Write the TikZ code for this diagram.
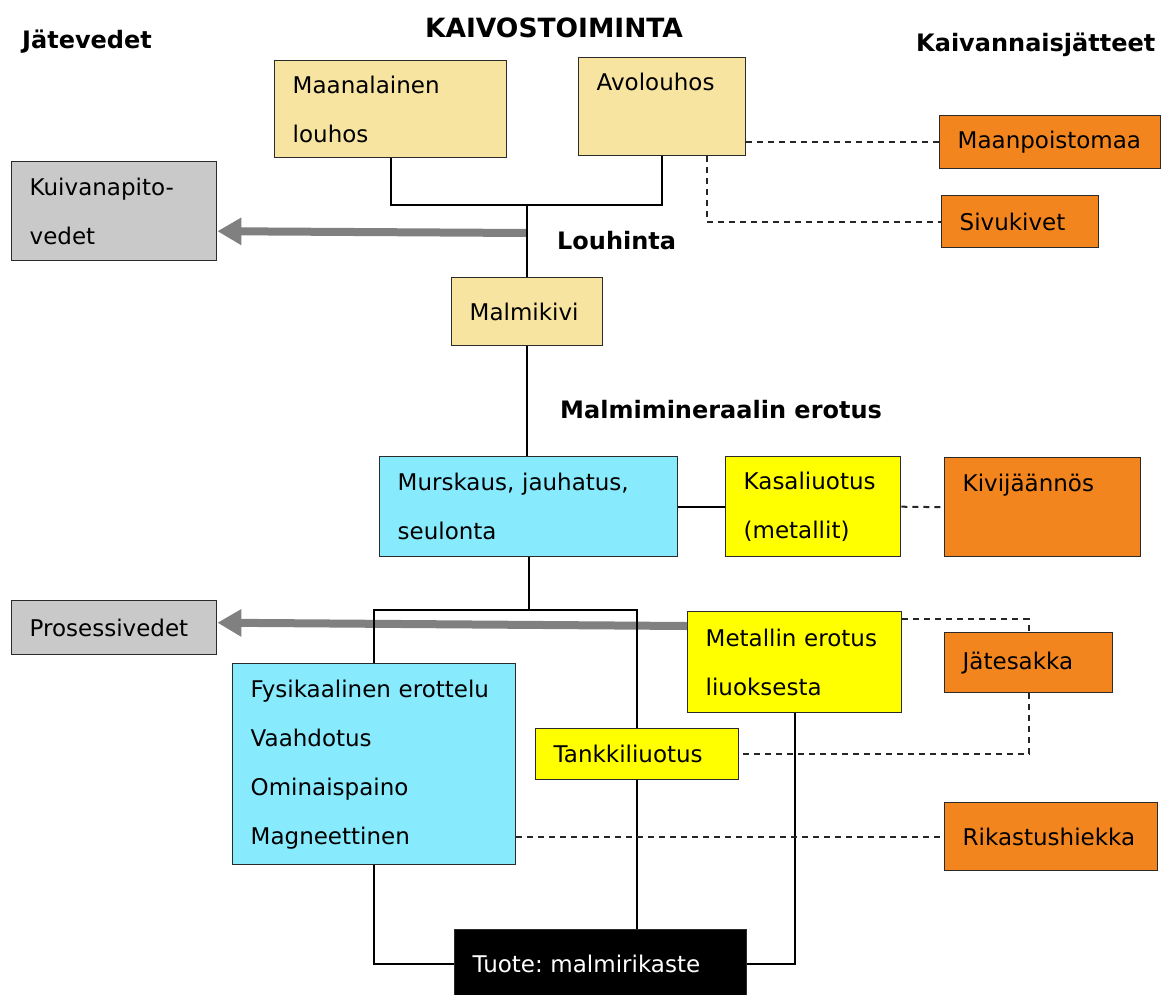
\documentclass[tikz,border=0pt]{standalone}
\usepackage{fontspec}
\setmainfont{DejaVu Sans}
\usetikzlibrary{positioning, arrows.meta}
\definecolor{orepale}{HTML}{F7E4A0}
\definecolor{processcyan}{HTML}{87EBFD}
\definecolor{wasteorange}{HTML}{F3851F}
\definecolor{watergray}{HTML}{C9C9C9}
\definecolor{leachyellow}{HTML}{FFFF00}
\definecolor{arrowgray}{HTML}{808080}
\definecolor{edgeline}{HTML}{2B2B2B}
\frenchspacing

\begin{document}
\begin{tikzpicture}[
  x=1pt, y=-1pt,
  baseBox/.style={draw=edgeline, line width=1.4pt, anchor=north west, inner xsep=18pt, inner ysep=0pt, align=left, font=\fontsize{23}{49}\selectfont},
  mineBox/.style={baseBox, fill=orepale},
  waterBox/.style={baseBox, fill=watergray},
  wasteBox/.style={baseBox, fill=wasteorange},
  processBox/.style={baseBox, fill=processcyan},
  leachBox/.style={baseBox, fill=leachyellow},
  productBox/.style={baseBox, fill=black, text=white},
  headLabel/.style={font=\fontsize{24}{28}\selectfont\bfseries, inner sep=0pt},
  flowLine/.style={draw=black, line width=2pt},
  wasteLine/.style={draw=black!85, line width=2pt, dash pattern=on 6pt off 5pt},
  waterArrow/.style={draw=arrowgray, line width=8pt, -{Triangle[length=24pt, width=26pt]}}
]
\useasboundingbox (0,0) rectangle (1162,994);

% Headings
\node[headLabel, font=\fontsize{26.5}{30}\selectfont\bfseries] (title) at (554,28) {KAIVOSTOIMINTA};
\node[headLabel, anchor=west] (waterHead) at (22,42) {Jätevedet};
\node[headLabel, anchor=west] (wasteHead) at (916,45) {Kaivannaisjätteet};
\node[headLabel, anchor=west] (miningHead) at (557,241) {Louhinta};
\node[headLabel, anchor=west] (sepHead) at (560,410) {Malmimineraalin erotus};

% Mining
\node[mineBox, text width=196pt, minimum height=97pt] (underground) at (274,60) {Maanalainen\\louhos};
\node[mineBox, text width=131pt, minimum height=98pt] (openpit) at (578,57) {Avolouhos\\\mbox{}};
\node[mineBox, text width=115pt, minimum height=68pt] (orebody) at (451,277) {Malmikivi};

% Waters
\node[waterBox, text width=169pt, minimum height=99pt] (dewater) at (11,161) {Kuivanapito-\\vedet};
\node[waterBox, text width=169pt, minimum height=54pt] (processWater) at (11,600) {Prosessivedet};

% Mineral separation
\node[processBox, text width=262pt, minimum height=100pt] (crush) at (379,456) {Murskaus, jauhatus,\\seulonta};
\node[leachBox, text width=139pt, minimum height=100pt] (heap) at (725,456) {Kasaliuotus\\(metallit)};
\node[leachBox, text width=178pt, minimum height=101pt] (metal) at (687,611) {Metallin erotus\\liuoksesta};
\node[leachBox, text width=167pt, minimum height=51pt] (tank) at (535,728) {Tankkiliuotus};
\node[processBox, text width=247pt, minimum height=201pt] (physical) at (232,663) {Fysikaalinen erottelu\\Vaahdotus\\Ominaispaino\\Magneettinen};
\node[productBox, text width=256pt, minimum height=68pt] (product) at (454,929) {Tuote: malmirikaste};

% Extractive wastes
\node[wasteBox, text width=185pt, minimum height=53pt] (overburden) at (939,115) {Maanpoistomaa};
\node[wasteBox, text width=121pt, minimum height=52pt] (wasterock) at (941,195) {Sivukivet};
\node[wasteBox, text width=160pt, minimum height=99pt] (heaprest) at (944,457) {Kivijäännös\\\mbox{}};
\node[wasteBox, text width=132pt, minimum height=60pt] (sludge) at (944,632) {Jätesakka};
\node[wasteBox, text width=177pt, minimum height=68pt] (tailings) at (944,802) {Rikastushiekka};

\coordinate (mineJoin) at (orebody.north |- 0,205);
\coordinate (dewaterTap) at (orebody.north |- 0,233);
\coordinate (splitJoin) at (crush.south |- 0,610);

% Water streams
\draw[waterArrow] (dewaterTap) -- ([yshift=-20pt]dewater.east);
\draw[waterArrow] ([yshift=-15pt]metal.north west) -- ([yshift=5pt]processWater.east);

% Main flow
\draw[flowLine] (underground.south) |- (mineJoin) -| (openpit.south);
\draw[flowLine] (mineJoin) -- (orebody.north);
\draw[flowLine] (orebody.south) -- (orebody.south |- crush.north);
\draw[flowLine] (crush.east) -- (heap.west);
\draw[flowLine] (crush.south) -- (splitJoin);
\draw[flowLine] (physical.north) |- (splitJoin) -| (tank.north);
\draw[flowLine] (physical.south) |- (product.west);
\draw[flowLine] (tank.south) -- (tank.south |- product.north);
\draw[flowLine] (metal.south) |- (product.east);

% Waste links
\draw[wasteLine] (openpit.east |- overburden.west) -- (overburden.west);
\draw[wasteLine] ([xshift=44.5pt]openpit.south) |- (wasterock.west);
\draw[wasteLine] (heap.east) -- (heaprest.west);
\draw[wasteLine] ([yshift=-8pt]metal.north east) -| (sludge.north);
\draw[wasteLine] (sludge.south) |- (tank.east);
\draw[wasteLine] (physical.east |- tailings.west) -- (tailings.west);

\end{tikzpicture}
\end{document}
